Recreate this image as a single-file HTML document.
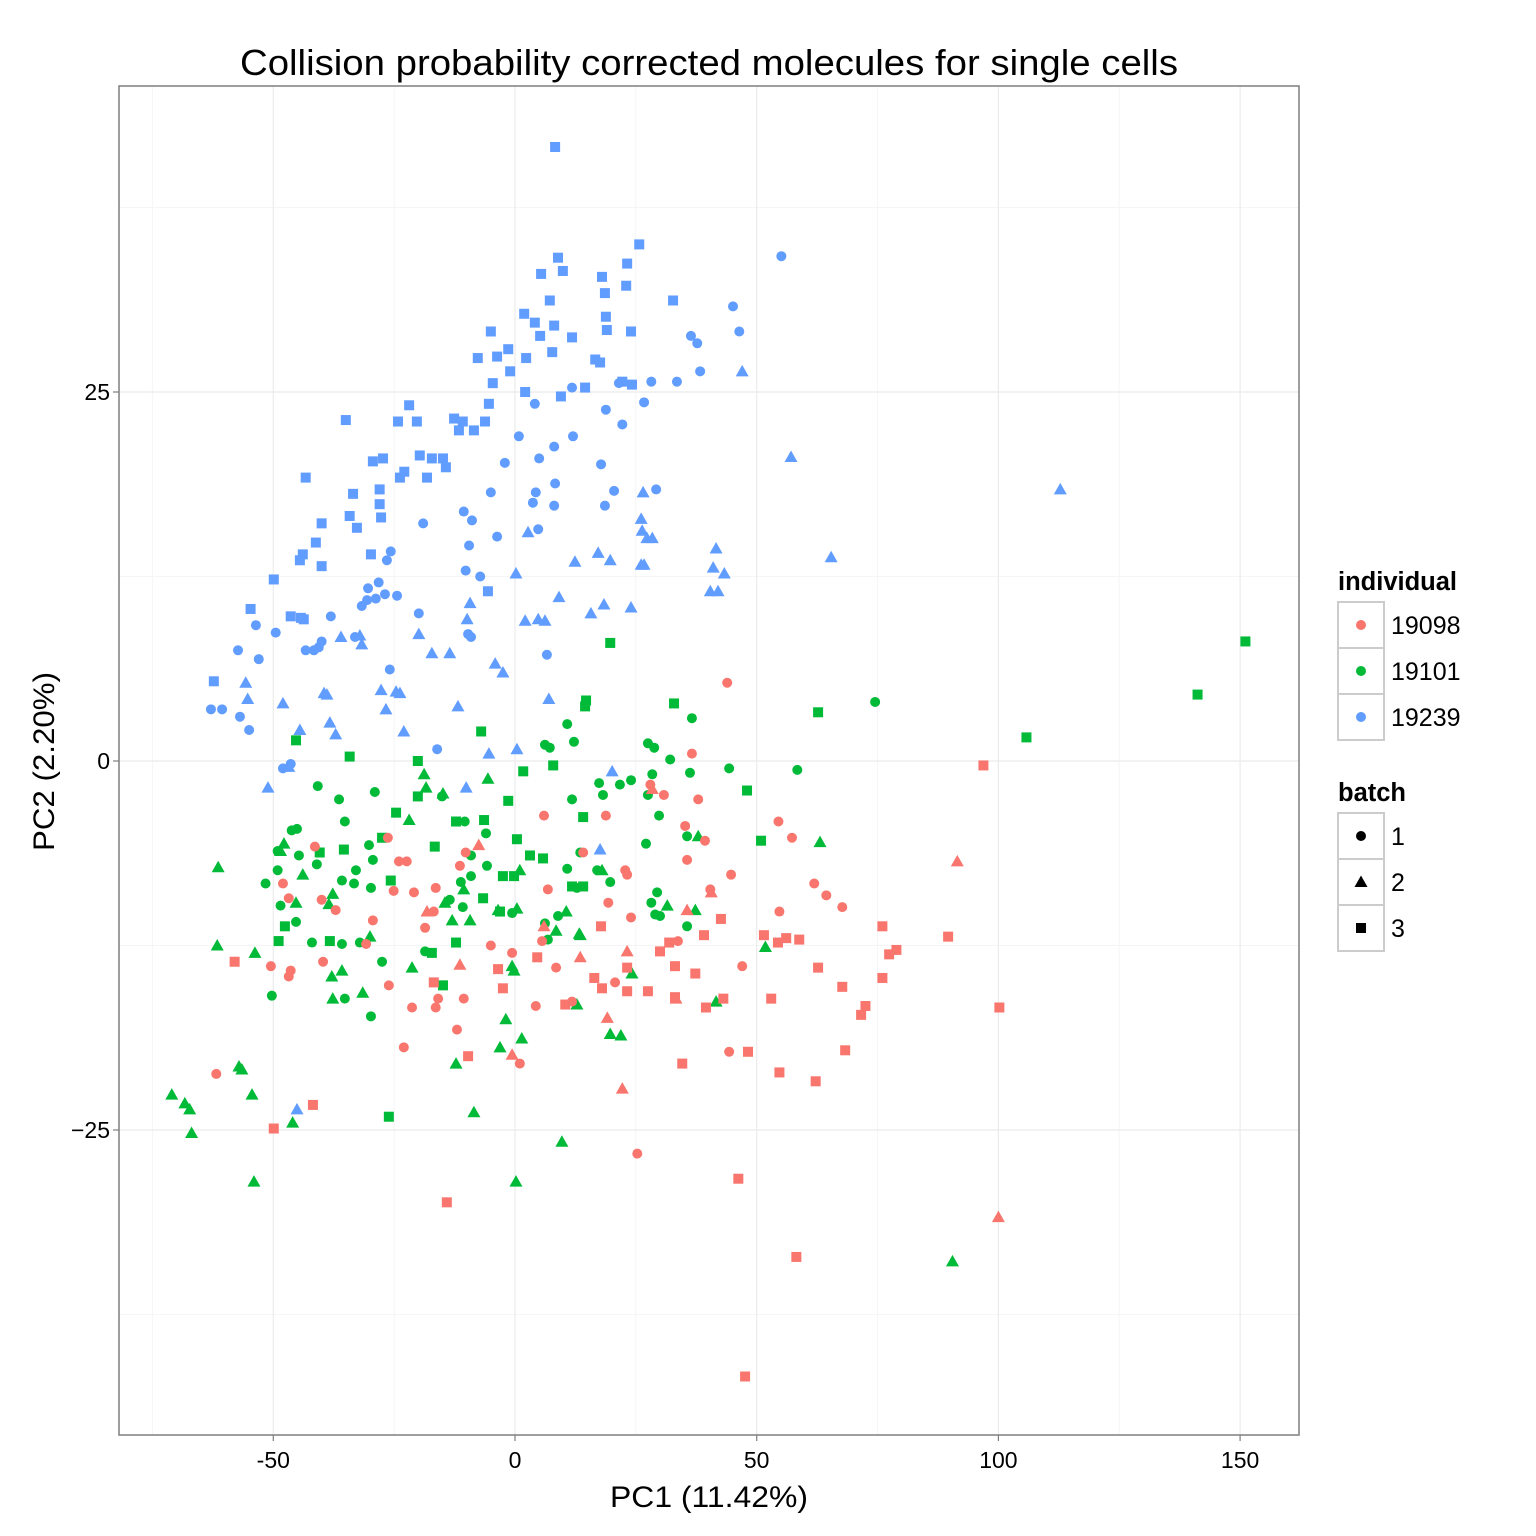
<!DOCTYPE html>
<html><head><meta charset="utf-8"><title>PCA single cells</title>
<style>
html,body{margin:0;padding:0;background:#fff;}
svg{display:block;font-family:"Liberation Sans",Arial,sans-serif;}
</style></head>
<body>
<svg id="chart" width="1536" height="1536" viewBox="0 0 1536 1536" xmlns="http://www.w3.org/2000/svg">
<rect width="1536" height="1536" fill="#fff"/>
<g id="grid"></g>
<g id="points"></g>
<rect x="119" y="86" width="1180" height="1349" fill="none" stroke="#7f7f7f" stroke-width="1.5"/>
<g id="axes"></g>
<text x="240" y="75" font-size="36" textLength="938" lengthAdjust="spacingAndGlyphs" fill="#000">Collision probability corrected molecules for single cells</text>
<text x="610" y="1507" font-size="30" textLength="198" lengthAdjust="spacingAndGlyphs" fill="#000">PC1 (11.42%)</text>
<text transform="translate(54,851) rotate(-90)" font-size="30" textLength="179" lengthAdjust="spacingAndGlyphs" fill="#000">PC2 (2.20%)</text>
<g id="legend"></g>
</svg>
<script>
// ---- data ----
const xTicks = [-50, 0, 50, 100, 150];
const yTicks = [-25, 0, 25];
const xMinor = [-75, -25, 25, 75, 125];
const yMinor = [-37.5, -12.5, 12.5, 37.5];
const individuals = ["19098", "19101", "19239"];
const batches = ["1", "2", "3"];

const blueB3 = [[8.3,41.6],[25.7,35.0],[8.9,34.1],[9.9,33.2],[5.4,33.0],[18.0,32.8],[23.2,33.7],[23.0,32.2],[18.6,31.7],[7.2,31.2],[32.7,31.2],[1.9,30.3],[4.1,29.7],[18.8,30.1],[8.1,29.5],[19.0,29.2],[24.0,29.1],[-5.0,29.1],[11.8,28.7],[5.2,28.8],[-1.4,27.9],[7.7,27.7],[-3.7,27.4],[-7.7,27.3],[2.3,27.3],[16.6,27.2],[17.6,27.0],[-1.0,26.4],[-4.6,25.6],[14.5,25.3],[22.2,25.7],[24.2,25.5],[2.1,25.0],[9.5,24.7],[-5.4,24.2],[-21.9,24.1],[-12.6,23.2],[-35.0,23.1],[-24.2,23.0],[-20.3,23.0],[-10.8,23.0],[-6.2,23.0],[-11.6,22.4],[-8.5,22.4],[-19.7,20.7],[-17.2,20.5],[-14.9,20.5],[-27.3,20.5],[-29.4,20.3],[-14.3,19.9],[-22.9,19.6],[-23.8,19.2],[-18.2,19.2],[-43.3,19.2],[-28.0,18.4],[-33.5,18.1],[-28.0,17.4],[-27.7,16.5],[-34.2,16.6],[-32.7,15.8],[-40.0,16.1],[-41.2,14.8],[-43.9,14.0],[-44.5,13.6],[-29.8,14.0],[-40.0,13.2],[-49.9,12.3],[-5.6,11.5],[-54.7,10.3],[-46.4,9.8],[-44.3,9.7],[-43.7,9.6],[-62.3,5.4]];
const blueB1 = [[55.1,34.2],[45.1,30.8],[46.4,29.1],[36.4,28.8],[37.7,28.3],[38.3,26.4],[28.2,25.7],[33.5,25.7],[21.5,25.6],[11.8,25.3],[26.7,24.3],[4.1,24.2],[18.8,23.8],[22.2,22.8],[0.8,22.0],[12.0,22.0],[8.1,21.3],[5.0,20.5],[-2.1,20.2],[17.8,20.1],[8.3,18.8],[4.3,18.2],[-5.0,18.2],[20.5,18.3],[29.2,18.4],[18.6,17.3],[8.1,17.3],[3.7,17.5],[4.8,15.7],[-10.6,16.9],[-8.9,16.3],[-19.0,16.1],[-3.7,15.2],[-9.5,14.6],[-25.7,14.2],[-26.5,13.6],[-10.2,12.9],[-7.2,12.5],[-28.2,12.1],[-30.4,11.7],[-30.6,10.9],[-26.9,11.3],[-24.4,11.2],[-28.8,11.0],[-31.7,10.5],[-38.1,9.8],[-19.9,10.0],[-53.6,9.2],[-49.5,8.7],[-40.0,8.1],[-33.1,8.4],[-57.3,7.5],[-43.3,7.5],[-41.6,7.5],[-40.6,7.7],[-53.0,6.9],[-9.7,8.6],[-9.1,8.4],[-25.9,6.2],[6.6,7.2],[-62.9,3.5],[-60.6,3.5],[-56.9,3.0],[-55.0,2.1],[-16.1,0.8],[-48.0,-0.5],[-46.4,-0.2]];
const blueB2 = [[47.0,26.4],[57.1,20.6],[112.8,18.4],[26.5,18.2],[26.1,16.4],[26.3,15.6],[27.3,15.1],[28.4,15.1],[2.7,15.5],[65.4,13.8],[41.6,14.4],[17.2,14.1],[19.7,13.6],[26.1,13.3],[26.7,13.3],[12.4,13.5],[41.0,13.1],[43.3,12.7],[0.2,12.7],[40.4,11.5],[42.0,11.5],[9.1,11.1],[18.4,10.6],[24.0,10.4],[-9.3,10.7],[2.1,9.5],[4.8,9.6],[6.2,9.5],[-9.9,9.6],[15.7,10.0],[-19.9,8.6],[-32.1,8.5],[-36.0,8.4],[-31.7,7.9],[-17.2,7.3],[-13.5,7.3],[-4.1,6.6],[-2.5,6.0],[-55.7,5.3],[-39.5,4.6],[-38.9,4.5],[-27.7,4.8],[-24.6,4.7],[-23.8,4.6],[-55.3,4.2],[-48.0,3.9],[7.0,4.2],[-11.8,3.7],[-26.7,3.5],[-38.3,2.6],[-23.0,2.0],[-37.1,1.8],[-44.5,2.1],[0.4,0.8],[-5.4,0.5],[-46.8,-0.4],[-51.1,-1.8],[20.1,-0.7],[17.6,-6.0],[-10.1,-1.8],[-45.1,-23.6]];
const greenB3 = [[151.1,8.1],[19.7,8.0],[141.2,4.5],[62.7,3.3],[32.9,3.9],[14.7,4.1],[14.5,3.7],[-7.0,2.0],[105.8,1.6],[-45.3,1.4],[-34.2,0.3],[-20.1,0.0],[7.9,-0.3],[1.7,-0.7],[-1.4,-2.7],[48.0,-2.0],[-20.1,-2.4],[-24.6,-3.5],[14.1,-3.8],[-12.2,-4.1],[-6.4,-4.0],[0.4,-5.3],[-27.5,-5.2],[-40.4,-6.2],[3.1,-6.4],[5.8,-6.6],[50.9,-5.4],[-35.4,-6.0],[-16.6,-5.8],[-25.7,-8.1],[-2.5,-7.8],[-0.2,-7.8],[11.8,-8.5],[14.1,-8.5],[-6.6,-9.3],[-3.1,-10.2],[-47.6,-11.2],[-48.9,-12.2],[-38.3,-12.2],[-17.2,-13.0],[-12.2,-12.3],[-14.9,-15.2],[-26.1,-24.1]];
const greenB1 = [[74.5,4.0],[36.6,2.9],[10.8,2.5],[12.2,1.3],[6.2,1.1],[7.2,0.9],[27.5,1.2],[28.8,0.9],[32.1,0.1],[36.2,-0.8],[44.3,-0.5],[58.4,-0.6],[24.0,-1.3],[28.4,-0.9],[21.7,-1.6],[17.4,-1.5],[18.2,-2.3],[27.5,-2.3],[11.8,-2.6],[-40.8,-1.7],[-36.4,-2.6],[-15.1,-2.4],[-29.0,-2.1],[-35.2,-4.1],[-45.1,-4.6],[-46.2,-4.7],[-49.1,-6.1],[-44.7,-6.4],[-41.0,-7.0],[-29.4,-6.7],[-51.6,-8.3],[-30.2,-5.7],[-10.4,-4.1],[-6.0,-4.9],[-5.8,-7.1],[-9.1,-6.4],[-9.1,-7.8],[-11.2,-8.2],[-10.8,-9.9],[-13.5,-9.4],[-33.3,-8.3],[-35.8,-8.1],[-32.9,-7.4],[-29.8,-8.6],[-49.1,-7.4],[-48.5,-9.8],[-42.0,-12.3],[-45.3,-10.9],[-35.8,-12.4],[-32.1,-12.3],[-18.6,-12.9],[13.5,-6.2],[10.8,-7.3],[12.8,-8.6],[17.0,-7.4],[19.7,-8.2],[27.1,-5.6],[29.8,-3.7],[35.6,-5.1],[28.2,-9.6],[30.0,-10.5],[29.0,-10.4],[29.4,-8.9],[35.6,-11.2],[6.2,-11.0],[6.8,-12.1],[8.9,-10.5],[-27.5,-13.6],[-50.3,-15.9],[-29.8,-17.3],[-35.2,-16.1],[-0.6,-10.3]];
const greenB2 = [[-61.4,-7.2],[-61.6,-12.5],[-53.8,-13.0],[-71.0,-22.6],[-68.3,-23.2],[-67.3,-23.6],[-66.9,-25.2],[-57.1,-20.7],[-56.5,-20.9],[-54.4,-22.6],[-54.0,-28.5],[-46.0,-24.5],[0.2,-28.5],[-8.5,-23.8],[-12.2,-20.5],[-3.1,-19.4],[1.4,-18.8],[-1.9,-17.5],[9.7,-25.8],[90.5,-33.9],[19.7,-18.5],[21.9,-18.6],[12.8,-16.5],[41.6,-16.3],[24.2,-14.4],[13.3,-11.7],[13.5,-11.8],[18.0,-7.4],[31.5,-9.8],[37.3,-10.1],[37.9,-5.1],[51.8,-12.6],[63.1,-5.5],[-0.6,-13.9],[-0.2,-14.2],[-37.7,-16.1],[-31.5,-15.7],[-37.9,-14.6],[-35.8,-14.2],[-21.3,-14.0],[-30.0,-11.9],[-45.3,-9.6],[-43.9,-7.7],[-37.7,-9.0],[-38.5,-9.7],[-18.8,-0.9],[-21.9,-4.0],[-14.9,-2.2],[-5.6,-1.2],[-18.4,-1.8],[-13.0,-10.8],[-9.3,-10.8],[-3.5,-10.1],[-47.8,-5.6],[-48.5,-6.1],[-14.5,-9.6],[-10.6,-8.7],[1.0,-7.4],[0.4,-10.0],[8.5,-11.5],[10.6,-10.2]];
const redB1 = [[43.9,5.3],[36.6,0.5],[30.8,-2.3],[28.0,-1.6],[37.9,-2.6],[54.5,-4.1],[57.3,-5.2],[35.2,-4.4],[39.3,-5.4],[44.7,-7.7],[61.9,-8.3],[64.4,-9.1],[67.7,-9.9],[54.7,-10.2],[35.6,-6.7],[40.4,-8.7],[19.3,-9.6],[24.0,-10.6],[33.7,-12.2],[47.0,-13.9],[25.3,-26.6],[44.3,-19.7],[1.0,-20.5],[-12.0,-18.2],[-23.0,-19.4],[-16.4,-16.7],[-21.3,-16.7],[-26.1,-15.2],[-10.6,-16.1],[-15.9,-16.1],[4.3,-16.6],[11.8,-16.3],[8.5,-14.0],[20.7,-15.0],[5.6,-12.2],[-5.0,-12.5],[-0.6,-13.0],[-50.5,-13.9],[-46.4,-14.2],[-46.8,-14.6],[-39.7,-13.6],[-30.8,-12.4],[-29.4,-10.8],[-18.6,-11.3],[-16.8,-10.2],[-46.8,-9.3],[-37.1,-10.1],[-40.0,-9.4],[-41.4,-5.8],[-48.0,-8.3],[-26.3,-5.2],[-24.0,-6.8],[-22.4,-6.8],[-20.9,-8.9],[-16.4,-8.6],[-10.2,-6.2],[-11.4,-7.1],[6.0,-3.7],[6.8,-8.7],[14.1,-6.2],[18.8,-3.7],[22.8,-7.4],[23.2,-7.7],[-61.8,-21.2],[-25.1,-8.8]];
const redB3 = [[96.9,-0.3],[76.0,-11.2],[78.9,-12.8],[77.4,-13.1],[89.6,-11.9],[76.0,-14.7],[67.7,-15.3],[72.5,-16.6],[71.6,-17.2],[100.2,-16.7],[68.3,-19.6],[62.7,-14.0],[58.8,-12.1],[56.1,-12.0],[54.4,-12.3],[51.5,-11.8],[53.0,-16.1],[62.2,-21.7],[54.7,-21.1],[48.2,-19.7],[34.6,-20.5],[46.2,-28.3],[58.2,-33.6],[47.6,-41.7],[-14.1,-29.9],[-49.9,-24.9],[-41.8,-23.3],[-58.0,-13.6],[42.6,-10.7],[39.1,-11.8],[37.3,-14.4],[39.5,-16.7],[33.1,-16.0],[43.1,-16.1],[33.1,-13.9],[31.9,-12.3],[30.0,-12.9],[27.5,-15.6],[23.2,-15.6],[18.0,-15.4],[16.4,-14.7],[10.4,-16.5],[17.8,-11.2],[4.6,-13.3],[-2.5,-15.4],[-3.5,-14.1],[-16.8,-15.0],[-9.7,-20.0],[23.2,-14.0]];
const redB2 = [[91.5,-6.8],[100.0,-30.9],[22.2,-22.2],[-0.6,-19.9],[23.2,-12.9],[19.1,-17.4],[33.3,-16.1],[35.6,-10.1],[40.6,-8.9],[13.5,-13.3],[-18.2,-10.2],[-11.4,-13.8],[-7.5,-5.7],[6.0,-11.2],[28.4,-1.9]];

// ---- scales ----
const X0 = 119, X1 = 1299, Y0 = 86, Y1 = 1435;
function sx(v){ return 515 + v * 4.834; }
function sy(v){ return 761 - v * 14.76; }
const NS = "http://www.w3.org/2000/svg";
const colors = {"19098":"#F8766D","19101":"#00BA38","19239":"#619CFF"};

function mk(tag, attrs, parent){
  const e = document.createElementNS(NS, tag);
  for (const k in attrs) e.setAttribute(k, attrs[k]);
  parent.appendChild(e);
  return e;
}

const grid = document.getElementById('grid');
xMinor.forEach(v => {
  const l = mk('line', {x1:sx(v), x2:sx(v), y1:Y0, y2:Y1, stroke:'#f5f5f5', 'stroke-width':1}, grid);
  
  
});
yMinor.forEach(v => {
  const l = mk('line', {x1:X0, x2:X1, y1:sy(v), y2:sy(v), stroke:'#f5f5f5', 'stroke-width':1}, grid);
  
  
});
xTicks.forEach(v => {
  const l = mk('line', {x1:sx(v), x2:sx(v), y1:Y0, y2:Y1, stroke:'#ebebeb', 'stroke-width':1.2}, grid);
  
  
});
yTicks.forEach(v => {
  const l = mk('line', {x1:X0, x2:X1, y1:sy(v), y2:sy(v), stroke:'#ebebeb', 'stroke-width':1.2}, grid);
  
  
});

const axes = document.getElementById('axes');
xTicks.forEach(v => {
  const t = mk('line', {x1:sx(v), x2:sx(v), y1:Y1, y2:Y1+6, stroke:'#7f7f7f', 'stroke-width':1.2}, axes);
  
  
  const tx = mk('text', {x:sx(v), y:Y1+33, 'font-size':23, 'text-anchor':'middle', fill:'#000'}, axes);
  tx.textContent = String(v);
  
  
});
yTicks.forEach(v => {
  const t = mk('line', {x1:X0-6, x2:X0, y1:sy(v), y2:sy(v), stroke:'#7f7f7f', 'stroke-width':1.2}, axes);
  
  
  const tx = mk('text', {x:X0-9, y:sy(v)+8, 'font-size':23, 'text-anchor':'end', fill:'#000'}, axes);
  tx.textContent = String(v).replace('-', '\u2212');
  
  
});

function drawShape(parent, shape, cx, cy, color, scale){
  const s = scale || 1;
  let e;
  if (shape === '1') e = mk('circle', {cx:cx, cy:cy, r:5*s, fill:color}, parent);
  else if (shape === '2') e = mk('polygon', {points:`${cx},${cy-6.5*s} ${cx-6.5*s},${cy+5*s} ${cx+6.5*s},${cy+5*s}`, fill:color}, parent);
  else e = mk('rect', {x:cx-5*s, y:cy-5*s, width:10*s, height:10*s, fill:color}, parent);
  return e;
}
const pts = document.getElementById('points');
const series = [
  ["19239","3",blueB3],["19239","1",blueB1],["19239","2",blueB2],
  ["19101","3",greenB3],["19101","1",greenB1],["19101","2",greenB2],
  ["19098","1",redB1],["19098","3",redB3],["19098","2",redB2]
];
series.forEach(([ind, b, arr]) => {
  arr.forEach(d => {
    const e = drawShape(pts, b, sx(d[0]), sy(d[1]), colors[ind]);
    
    
  });
});

const lg = document.getElementById('legend');
const t1 = mk('text', {x:1338, y:590, 'font-size':25.5, 'font-weight':'bold', fill:'#000'}, lg);
t1.textContent = 'individual';


individuals.forEach((ind, i) => {
  const y = 602 + i * 46;
  const r = mk('rect', {x:1338, y:y, width:46, height:46, fill:'#fff', stroke:'#cccccc', 'stroke-width':2}, lg);
  
  
  const c = drawShape(lg, '1', 1361, y+23, colors[ind], 1);
  
  
  const tx = mk('text', {x:1391, y:y+32, 'font-size':25, fill:'#000'}, lg);
  tx.textContent = ind;
  
  
});
const t2 = mk('text', {x:1338, y:801, 'font-size':25.5, 'font-weight':'bold', fill:'#000'}, lg);
t2.textContent = 'batch';


batches.forEach((b, i) => {
  const y = 813 + i * 46;
  const r = mk('rect', {x:1338, y:y, width:46, height:46, fill:'#fff', stroke:'#cccccc', 'stroke-width':2}, lg);
  
  
  const c = drawShape(lg, b, 1361, y+23, '#000', 1);
  
  
  const tx = mk('text', {x:1391, y:y+32, 'font-size':25, fill:'#000'}, lg);
  tx.textContent = b;
  
  
});
</script>
</body></html>
